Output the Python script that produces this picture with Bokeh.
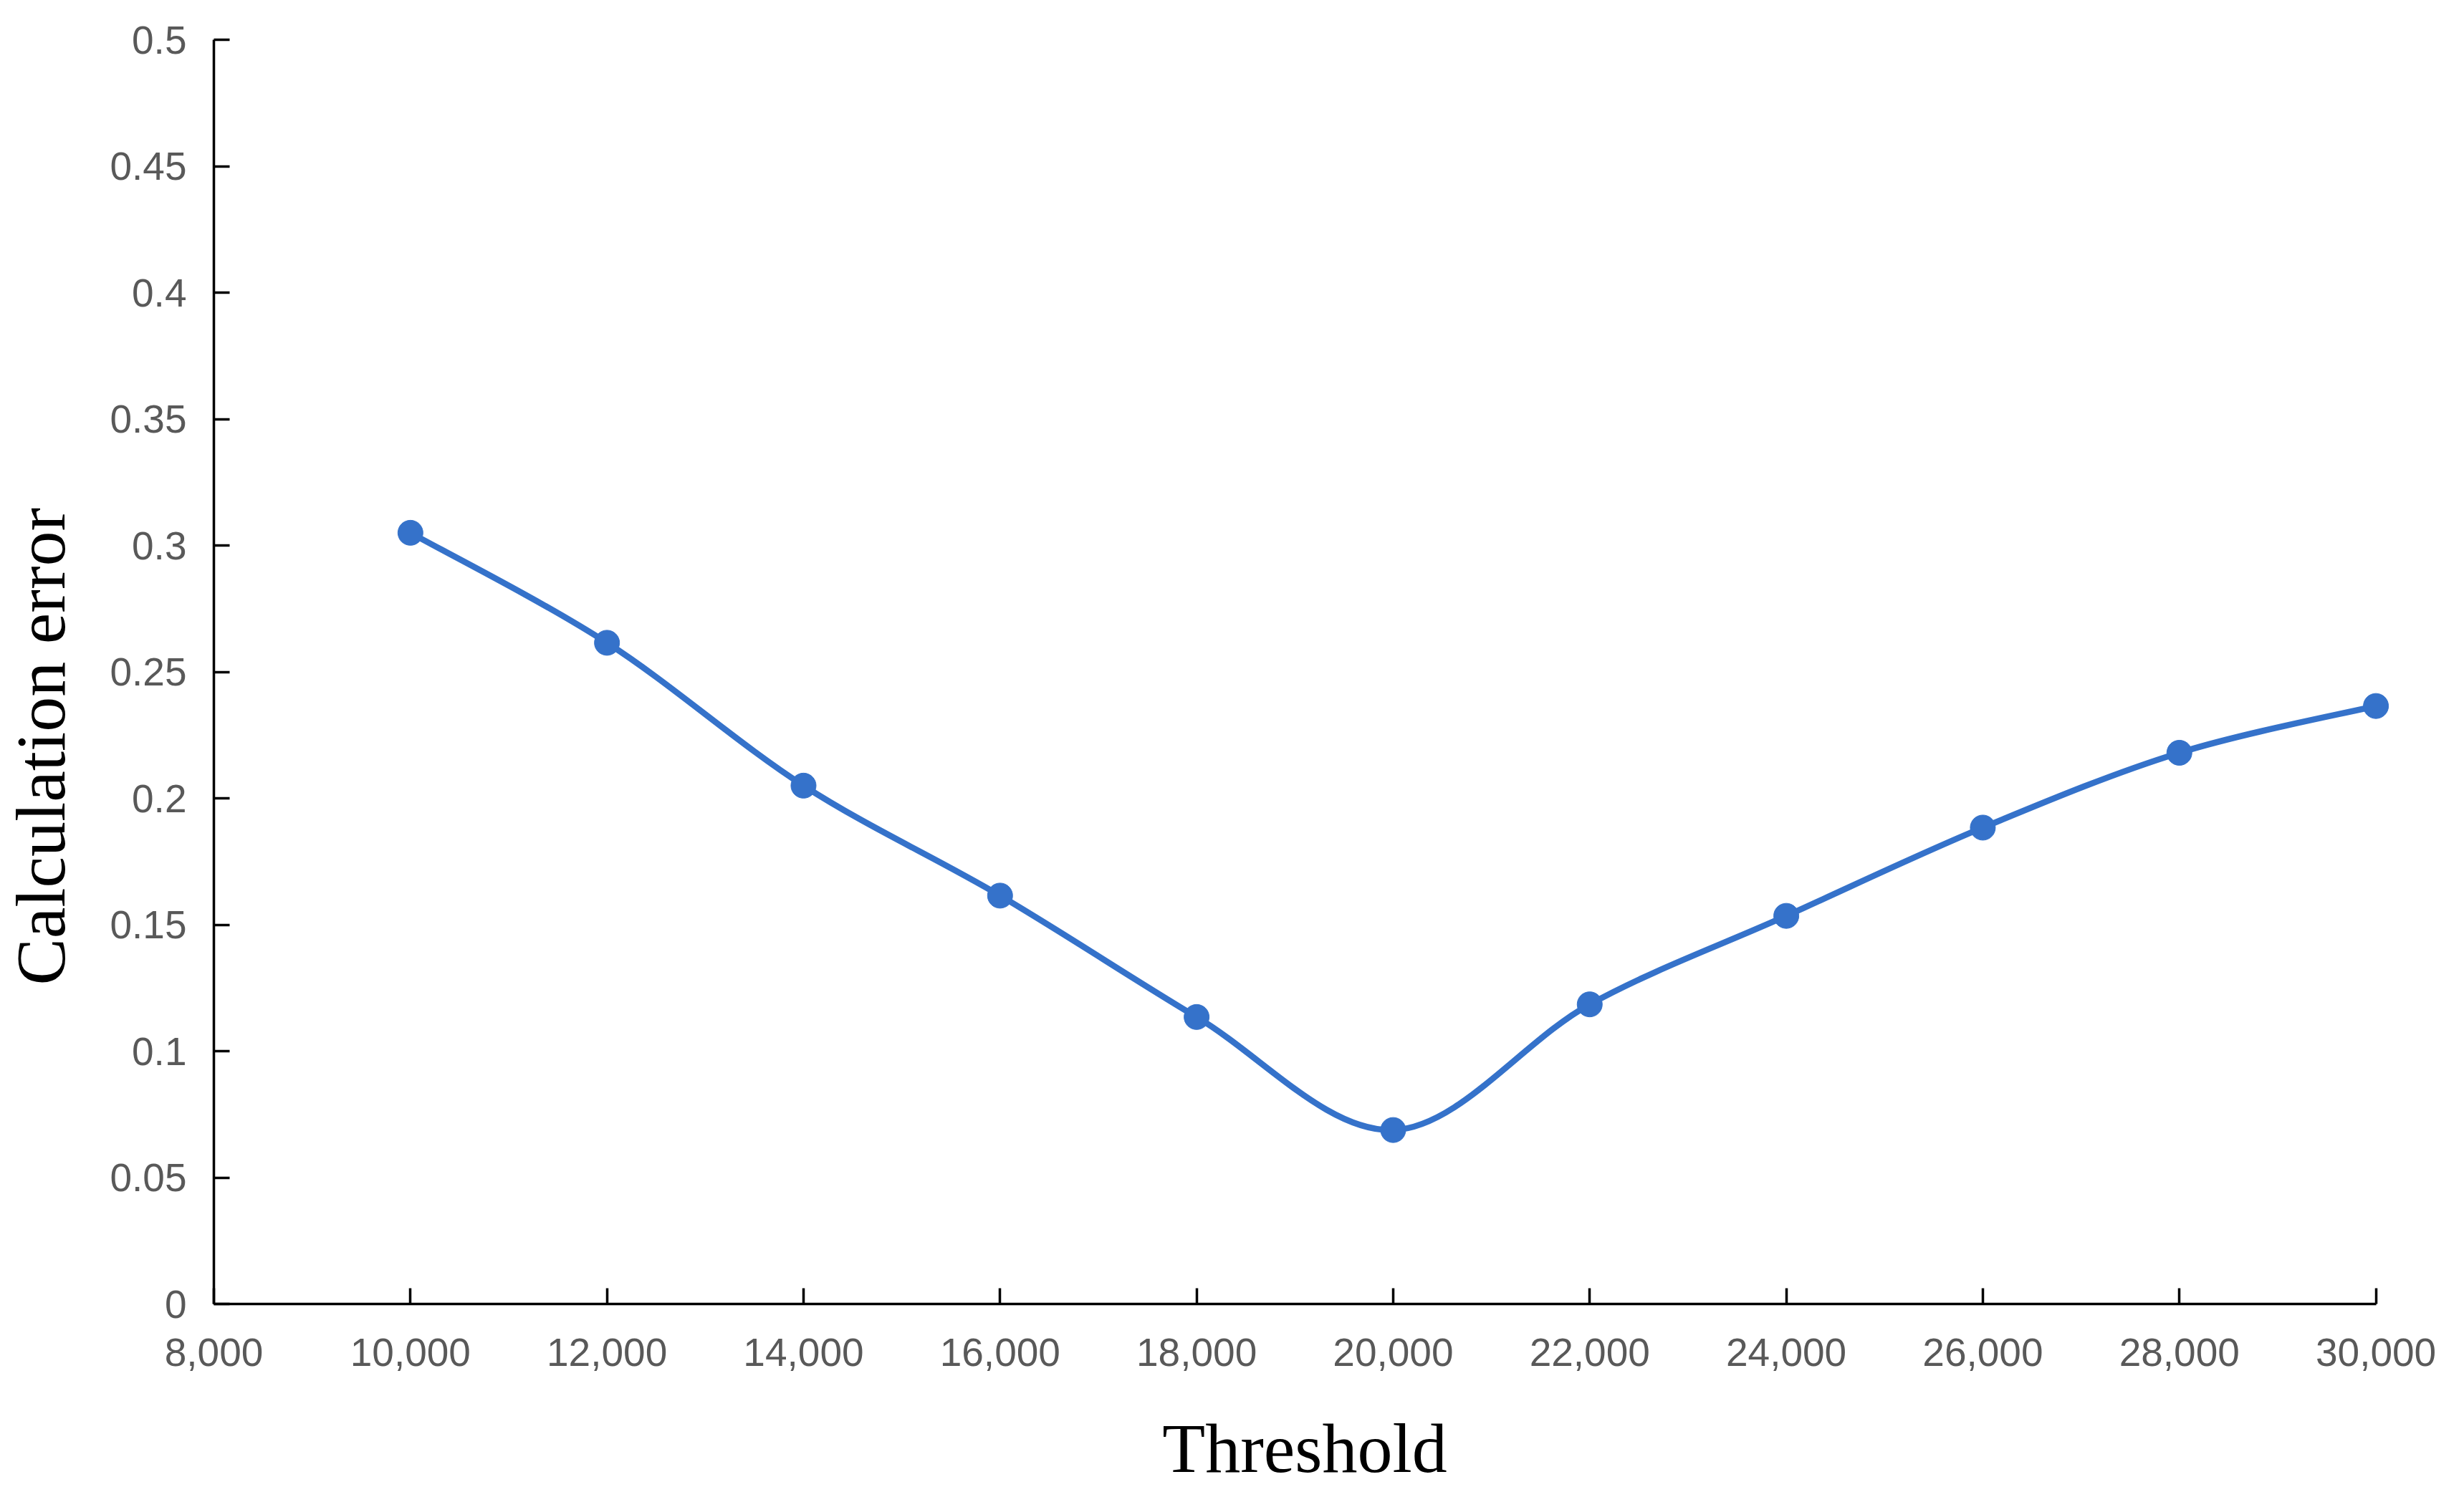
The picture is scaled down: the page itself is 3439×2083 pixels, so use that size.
from bokeh.plotting import figure
from bokeh.models import FixedTicker, NumeralTickFormatter, ColumnDataSource, Range1d, Title
from bokeh.embed import file_html
from bokeh.resources import INLINE

# Data
threshold = [10000, 12000, 14000, 16000, 18000, 20000, 22000, 24000, 26000, 28000, 30000]
calc_error = [0.305, 0.2615, 0.205, 0.1615, 0.1135, 0.0688, 0.1185, 0.1535, 0.1884, 0.218, 0.2365]
x_ticks = [8000, 10000, 12000, 14000, 16000, 18000, 20000, 22000, 24000, 26000, 28000, 30000]
y_ticks = [0, 0.05, 0.1, 0.15, 0.2, 0.25, 0.3, 0.35, 0.4, 0.45, 0.5]
y_tick_labels = ["0", "0.05", "0.1", "0.15", "0.2", "0.25", "0.3", "0.35", "0.4", "0.45", "0.5"]
x_title = "Threshold"
y_title = "Calculation error"

LINE = "#3572CA"
TICK_COL = "#595959"

p = figure(width=3423, height=2083, output_backend="svg", toolbar_location=None,
           x_range=Range1d(8000, 30200), y_range=Range1d(0, 0.5),
           min_border_left=296, min_border_right=80, min_border_top=55, min_border_bottom=263)
p.outline_line_color = None
p.grid.visible = False
p.background_fill_color = "white"
p.border_fill_color = "white"

# Smooth (Excel-style) curve via cubic Bezier segments built from the data
n = len(threshold)
x0, y0, x1, y1, cx0, cy0, cx1, cy1 = [], [], [], [], [], [], [], []
for i in range(n - 1):
    pm = i - 1 if i > 0 else 0
    pp = i + 2 if i + 2 < n else n - 1
    xa, ya = threshold[i], calc_error[i]
    xb, yb = threshold[i + 1], calc_error[i + 1]
    x0.append(xa); y0.append(ya); x1.append(xb); y1.append(yb)
    cx0.append(xa + (xb - threshold[pm]) / 6.0)
    cy0.append(ya + (yb - calc_error[pm]) / 6.0)
    cx1.append(xb - (threshold[pp] - xa) / 6.0)
    cy1.append(yb - (calc_error[pp] - ya) / 6.0)
seg = ColumnDataSource(dict(x0=x0, y0=y0, x1=x1, y1=y1, cx0=cx0, cy0=cy0, cx1=cx1, cy1=cy1))
p.bezier(x0="x0", y0="y0", x1="x1", y1="y1", cx0="cx0", cy0="cy0", cx1="cx1", cy1="cy1",
         source=seg, line_color=LINE, line_width=8.5)
p.scatter(threshold, calc_error, size=35, fill_color=LINE, line_color=LINE)

# Axes
for ax in (p.xaxis[0], p.yaxis[0]):
    ax.axis_line_color = "black"
    ax.axis_line_width = 3.5
    ax.major_tick_line_color = "black"
    ax.major_tick_line_width = 3.5
    ax.major_tick_in = 22
    ax.major_tick_out = 0
    ax.minor_tick_line_color = None
    ax.major_label_text_font = "Liberation Sans"
    ax.major_label_text_font_size = "55px"
    ax.major_label_text_color = TICK_COL

p.xaxis[0].ticker = FixedTicker(ticks=x_ticks)
p.xaxis[0].formatter = NumeralTickFormatter(format="0,0")
p.xaxis[0].major_label_standoff = 48
p.xaxis[0].bounds = (x_ticks[0], x_ticks[-1])
p.xaxis[0].axis_label = x_title
p.xaxis[0].axis_label_standoff = 58
p.xaxis[0].axis_label_text_font = "Liberation Serif"
p.xaxis[0].axis_label_text_font_style = "normal"
p.xaxis[0].axis_label_text_font_size = "98px"
p.xaxis[0].axis_label_text_color = "black"

p.yaxis[0].ticker = FixedTicker(ticks=y_ticks)
p.yaxis[0].major_label_overrides = {t: l for t, l in zip(y_ticks, y_tick_labels)}
p.yaxis[0].major_label_standoff = 38

# blank gap panel between the y tick labels and the y title
p.add_layout(Title(text=" ", standoff=0, text_font_size="34px"), "left")
# y title sits below the frame centre as in the original
p.add_layout(Title(text=y_title, align="left", offset=445, standoff=0,
                   text_font="Liberation Serif", text_font_style="normal",
                   text_font_size="98px", text_color="black"), "left")

open("out.html", "w").write(file_html(p, INLINE))
